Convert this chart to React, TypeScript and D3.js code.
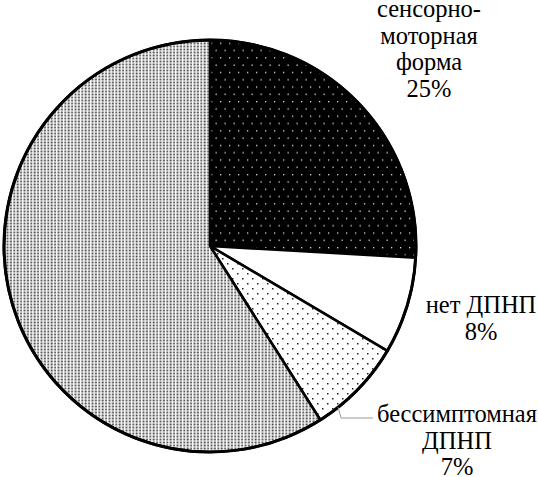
import React from "react";
import * as d3 from "d3";

const categories = ["сенсорно-моторная форма", "нет ДПНП", "бессимптомная ДПНП", "прочее"];
const values = [25.9, 7.6, 7.5, 59.0];
const labelLines = [
  ["сенсорно-", "моторная", "форма", "25%"],
  ["нет ДПНП", "8%"],
  ["бессимптомная", "ДПНП", "7%"],
  [],
];
const fills = ["url(#pBlack)", "#ffffff", "url(#pSparse)", "url(#pGray)"];

const W = 538;
const H = 477;
const cx = 210;
const cy = 246;
const R = 206;

// label anchor positions (centre x, first baseline y)
const labelPos: [number, number][] = [
  [429, 17],
  [481, 313],
  [457, 422],
  [0, 0],
];
const lineH = 26.7;
const FONT = '"Liberation Serif"';
const BASE = 36;
const SIZE = 24.5;
const k = SIZE / BASE;

export default function App() {
  const pie = d3.pie<number>().sort(null).value((d) => d).startAngle(0).endAngle(2 * Math.PI);
  const arcs = pie(values);
  const arc = d3.arc<d3.PieArcDatum<number>>().innerRadius(0).outerRadius(R);

  // leader line for 3rd slice
  const a3 = arcs[2];
  const ang = (a3.startAngle + a3.endAngle) / 2 + 0.13;
  const px = cx + Math.sin(ang) * R;
  const py = cy - Math.cos(ang) * R;

  return (
    <svg
      width={W}
      height={H}
      style={{ position: "absolute", left: 0, top: 0, background: "#fff" }}
    >
      <defs>
        <pattern id="pBlack" width={9} height={14.6} patternUnits="userSpaceOnUse">
          <rect width={9} height={14.6} fill="#000" />
          <rect x={1} y={1} width={1.3} height={1.3} fill="#ddd" />
          <rect x={5.5} y={8.3} width={1.3} height={1.3} fill="#ddd" />
        </pattern>
        <pattern id="pSparse" width={10} height={10} patternUnits="userSpaceOnUse">
          <rect width={10} height={10} fill="#fff" />
          <rect x={2} y={2} width={1.5} height={1.5} fill="#222" />
          <rect x={7} y={7} width={1.5} height={1.5} fill="#222" />
        </pattern>
        <pattern id="pGray" width={3.4} height={3} patternUnits="userSpaceOnUse">
          <rect width={3.4} height={3} fill="#fff" />
          <rect x={0.5} y={0.5} width={1.9} height={2} fill="#555" />
        </pattern>
      </defs>
      <g transform={`translate(${cx},${cy})`}>
        {arcs.map((a, i) => (
          <path
            key={categories[i]}
            d={arc(a) || ""}
            fill={fills[i]}
            stroke="#000"
            strokeWidth={2.6}
            strokeLinejoin="round"
          />
        ))}
        <circle r={R} fill="none" stroke="#000" strokeWidth={3} />
      </g>
      <polyline
        points={`${px},${py} ${px + 3},${418} ${373},${418}`}
        fill="none"
        stroke="#999"
        strokeWidth={1}
      />
      {labelLines.map((lines, i) =>
        lines.map((t, j) => (
          <g
            key={`${i}-${j}`}
            transform={`translate(${labelPos[i][0]},${labelPos[i][1] + j * lineH}) scale(${k})`}
          >
            <text
              x={0}
              y={0}
              textAnchor="middle"
              style={{ fontFamily: FONT, fontSize: `${BASE}px` }}
              fill="#000"
            >
              {t}
            </text>
          </g>
        ))
      )}
    </svg>
  );
}
